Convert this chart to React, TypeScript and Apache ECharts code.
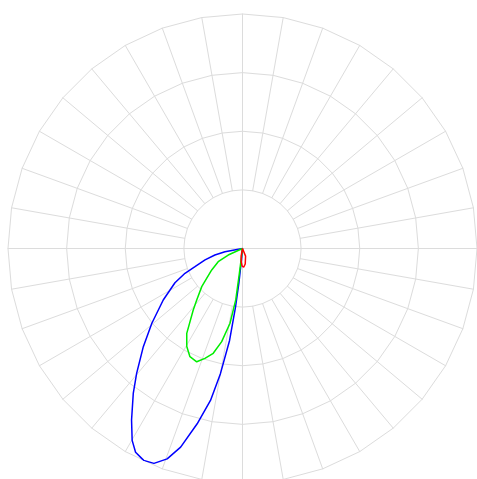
import React, { useEffect, useRef } from "react";
import * as echarts from "echarts";

// [radius, angle in degrees (counter-clockwise from east)]
const blueData: number[][] = [
  [0, 186], [0.76, 190.4], [1.21, 193.3], [1.67, 197.0], [2.17, 201.0],
  [2.67, 203.3], [3.23, 206.9], [4.03, 213.0], [5.01, 219.5], [5.95, 224.7],
  [6.98, 229.7], [7.74, 233.0], [8.71, 237.1], [9.44, 240.1], [9.81, 242.3],
  [9.97, 245.0], [9.91, 247.6], [9.53, 250.3], [8.87, 252.7], [7.72, 255.5],
  [6.62, 258.1], [5.42, 260.0], [3.96, 262.0], [2.52, 263.2], [1.51, 264.0],
  [0.52, 264.8], [0, 266],
];

const greenData: number[][] = [
  [0, 196], [0.67, 204.6], [1.18, 208.6], [1.6, 214.9], [1.99, 219.8],
  [2.38, 223.1], [2.94, 228.4], [3.36, 231.3], [4.33, 236.7], [4.81, 240.4],
  [5.13, 244.1], [5.21, 248.0], [4.95, 251.1], [4.64, 254.4], [4.07, 257.4],
  [3.23, 260.5], [2.21, 262.5], [1.09, 262.8], [0.38, 263.0], [0, 263.5],
];

const redData: number[][] = [
  [0, 250], [0.32, 260], [0.58, 264.5], [0.75, 269], [0.8, 273.6],
  [0.67, 280], [0.35, 292], [0, 310],
];

const indicatorCount = 36;
const radiusMax = 10;

export default function App() {
  const ref = useRef<HTMLDivElement>(null);
  useEffect(() => {
    document.body.style.margin = "0";
    if (!ref.current) return;
    const chart = echarts.init(ref.current, undefined, { renderer: "svg" });
    const gridColor = "#dcdcdc";
    const center = [242.5, 248.5];
    chart.setOption({
      animation: false,
      radar: {
        z: 0,
        center,
        radius: [58.6, 234.5],
        startAngle: 90,
        shape: "polygon",
        splitNumber: 3,
        indicator: Array.from({ length: indicatorCount }, () => ({ name: "", max: radiusMax })),
        axisName: { show: false },
        axisLine: { show: true, lineStyle: { color: gridColor, width: 1 } },
        axisTick: { show: false },
        axisLabel: { show: false },
        splitLine: { show: true, lineStyle: { color: gridColor, width: 1 } },
        splitArea: { show: false },
      },
      polar: { center, radius: 234.5 },
      angleAxis: {
        type: "value",
        min: 0,
        max: 360,
        interval: 90,
        startAngle: 0,
        clockwise: false,
        axisLine: { show: false },
        axisTick: { show: false },
        axisLabel: { show: false },
        splitLine: { show: true, lineStyle: { color: gridColor, width: 1 } },
      },
      radiusAxis: {
        type: "value",
        min: 0,
        max: radiusMax,
        axisLine: { show: false },
        axisTick: { show: false },
        axisLabel: { show: false },
        splitLine: { show: false },
      },
      series: [
        {
          type: "line",
          coordinateSystem: "polar",
          data: blueData,
          showSymbol: false,
          lineStyle: { color: "#0000ff", width: 1.5 },
          itemStyle: { color: "#0000ff" },
        },
        {
          type: "line",
          coordinateSystem: "polar",
          data: greenData,
          showSymbol: false,
          lineStyle: { color: "#00ee00", width: 1.5 },
          itemStyle: { color: "#00ee00" },
        },
        {
          type: "line",
          coordinateSystem: "polar",
          data: redData,
          showSymbol: false,
          lineStyle: { color: "#ff0000", width: 1.5 },
          itemStyle: { color: "#ff0000" },
        },
      ],
    });
    return () => chart.dispose();
  }, []);
  return <div ref={ref} style={{ width: 477, height: 479 }} />;
}
